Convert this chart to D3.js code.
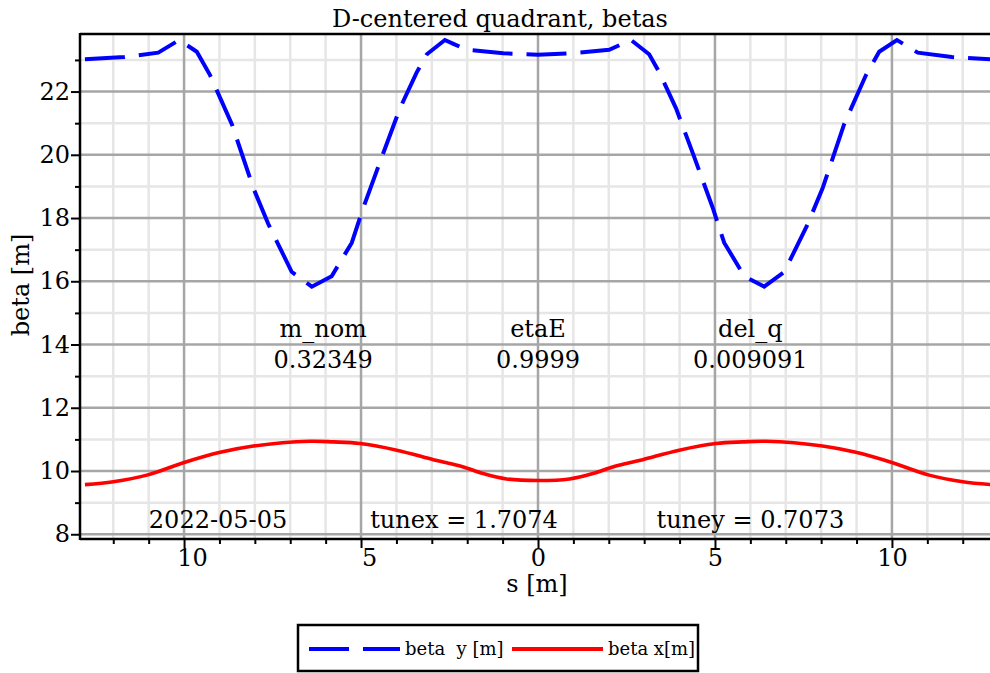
<!DOCTYPE html>
<html><head><meta charset="utf-8">
<script src="https://cdn.jsdelivr.net/npm/d3@7"></script>
<style>
html,body{margin:0;padding:0;background:#fff;}
svg{display:block;font-family:"DejaVu Serif",serif;}
</style></head>
<body><svg id="c" width="990" height="673"></svg>
<script>
// ---- data ----
const sBetaY = [-12.80,-11.69,-10.73,-10.14,-9.64,-9.27,-8.65,-8.04,-7.62,-6.96,-6.39,-5.83,-5.26,-4.95,-4.42,-3.90,-3.43,-3.14,-2.63,-2.39,-2.01,-0.98,0,
                0.98,2.01,2.39,2.63,3.14,3.43,3.90,4.42,4.95,5.26,5.83,6.39,6.96,7.62,8.04,8.65,9.27,9.64,10.14,10.73,11.69,12.80];
const betaY = [23.02,23.09,23.23,23.63,23.26,22.53,20.97,18.94,17.81,16.30,15.83,16.16,17.22,18.28,19.91,21.47,22.60,23.18,23.63,23.51,23.32,23.21,23.16,
               23.21,23.32,23.51,23.63,23.18,22.60,21.47,19.91,18.28,17.22,16.16,15.83,16.30,17.81,18.94,20.97,22.53,23.26,23.63,23.23,23.09,23.02];
const sBetaX = [-12.80,-12.00,-11.05,-10.02,-8.98,-8.04,-6.44,-5.78,-5.03,-3.99,-2.96,-2.58,-2.11,-1.55,-0.89,0,
                0.89,1.55,2.11,2.58,2.96,3.99,5.03,5.78,6.44,8.04,8.98,10.02,11.05,12.00,12.80];
const betaX = [9.57,9.66,9.87,10.26,10.59,10.79,10.94,10.92,10.87,10.66,10.36,10.26,10.13,9.92,9.75,9.70,
               9.75,9.92,10.13,10.26,10.36,10.66,10.87,10.92,10.94,10.79,10.59,10.26,9.87,9.66,9.57];
const xMajorTicks = [-10,-5,0,5,10];
const xMinorTicks = [-12,-11,-9,-8,-7,-6,-4,-3,-2,-1,1,2,3,4,6,7,8,9,11,12];
const yMajorTicks = [8,10,12,14,16,18,20,22];
const yMinorTicks = [9,11,13,15,17,19,21,23];
const paramNames = ["m_nom","etaE","del_q"];
const paramValues = ["0.32349","0.9999","0.009091"];
const paramS = [-6.07,0,6.0];
const footTexts = ["2022-05-05","tunex = 1.7074","tuney = 0.7073"];
const footS = [-9.04,-2.09,6.0];
const titleText = "D-centered quadrant, betas";
const legendLabels = ["beta  y [m]","beta x[m]"];

// ---- layout ----
const svg = d3.select("#c");
const L=80, R=996, T=34, B=539;
const x = d3.scaleLinear().domain([-12.94,12.94]).range([L,R]);
const y = d3.scaleLinear().domain([7.85,23.82]).range([B,T]);

const g = svg.append("g");
g.selectAll(".vminor").data(xMinorTicks).join("line")
  .attr("x1",d=>x(d)).attr("x2",d=>x(d)).attr("y1",T).attr("y2",B)
  .attr("stroke","#e6e6e6").attr("stroke-width",2.5);
g.selectAll(".hminor").data(yMinorTicks).join("line")
  .attr("x1",L).attr("x2",R).attr("y1",d=>y(d)).attr("y2",d=>y(d))
  .attr("stroke","#e6e6e6").attr("stroke-width",2.5);
g.selectAll(".vmajor").data(xMajorTicks).join("line")
  .attr("x1",d=>x(d)).attr("x2",d=>x(d)).attr("y1",T).attr("y2",B)
  .attr("stroke","#a6a6a6").attr("stroke-width",2.5);
g.selectAll(".hmajor").data(yMajorTicks).join("line")
  .attr("x1",L).attr("x2",R).attr("y1",d=>y(d)).attr("y2",d=>y(d))
  .attr("stroke","#a6a6a6").attr("stroke-width",2.5);

svg.append("clipPath").attr("id","pc").append("rect")
  .attr("x",L).attr("y",T).attr("width",R-L).attr("height",B-T);
const lineY = d3.line().x((d,i)=>x(sBetaY[i])).y(d=>y(d)).curve(d3.curveLinear);
const lineX = d3.line().x((d,i)=>x(sBetaX[i])).y(d=>y(d)).curve(d3.curveCatmullRom.alpha(0.5));
svg.append("path").attr("d",lineX(betaX)).attr("fill","none")
  .attr("stroke","#ff0000").attr("stroke-width",3.6).attr("clip-path","url(#pc)");
svg.append("path").attr("d",lineY(betaY)).attr("fill","none")
  .attr("stroke","#0000ff").attr("stroke-width",4).attr("stroke-dasharray","40,14")
  .attr("clip-path","url(#pc)");

const fs = 24;
const yAx = svg.append("g").attr("transform",`translate(${L},0)`)
  .call(d3.axisLeft(y).tickValues(yMajorTicks).tickSize(9).tickPadding(1).tickFormat(d3.format("d")));
const yAxMin = svg.append("g").attr("transform",`translate(${L},0)`)
  .call(d3.axisLeft(y).tickValues(yMinorTicks).tickSize(5).tickFormat(""));
const xAx = svg.append("g").attr("transform",`translate(0,${B})`)
  .call(d3.axisBottom(x).tickValues(xMajorTicks).tickSize(9).tickPadding(1).tickFormat(d=>Math.abs(d)));
const xAxMin = svg.append("g").attr("transform",`translate(0,${B})`)
  .call(d3.axisBottom(x).tickValues(xMinorTicks).tickSize(5).tickFormat(""));
[yAx,yAxMin,xAx,xAxMin].forEach(a=>{
  a.select(".domain").remove();
  a.selectAll(".tick line").attr("stroke","#000").attr("stroke-width",2);
  a.selectAll("text").attr("font-family","DejaVu Serif").attr("font-size",fs).attr("fill","#000");
});
xAx.selectAll(".tick text").filter(d=>d<0).attr("dx",8);
svg.append("line").attr("x1",L).attr("x2",R).attr("y1",B).attr("y2",B).attr("stroke","#000").attr("stroke-width",2.5);
svg.append("line").attr("x1",L).attr("x2",R).attr("y1",T).attr("y2",T).attr("stroke","#000").attr("stroke-width",2.5);
svg.append("line").attr("x1",L).attr("x2",L).attr("y1",T-1).attr("y2",B+1).attr("stroke","#000").attr("stroke-width",2.5);

svg.append("text").attr("x",500).attr("y",27).attr("text-anchor","middle")
  .attr("font-size",24).text(titleText);
svg.append("text").attr("x",537).attr("y",592).attr("text-anchor","middle")
  .attr("font-size",fs).text("s [m]");
svg.append("text").attr("transform","translate(29,285) rotate(-90)").attr("text-anchor","middle")
  .attr("font-size",fs).text("beta [m]");

paramNames.forEach((n,i)=>{
  svg.append("text").attr("x",x(paramS[i])).attr("y",337).attr("text-anchor","middle")
    .attr("font-size",fs).text(n);
  svg.append("text").attr("x",x(paramS[i])).attr("y",368).attr("text-anchor","middle")
    .attr("font-size",fs).text(paramValues[i]);
});
footTexts.forEach((t,i)=>{
  svg.append("text").attr("x",x(footS[i])).attr("y",528).attr("text-anchor","middle")
    .attr("font-size",fs).text(t);
});

const lg = svg.append("g");
lg.append("rect").attr("x",298).attr("y",625).attr("width",400).attr("height",46)
  .attr("fill","#fff").attr("stroke","#000").attr("stroke-width",2.5);
lg.append("line").attr("x1",309).attr("x2",400).attr("y1",649).attr("y2",649)
  .attr("stroke","#0000ff").attr("stroke-width",4).attr("stroke-dasharray","40,14");
lg.append("text").attr("x",405).attr("y",655).attr("font-size",18).attr("xml:space","preserve")
  .style("white-space","pre").text(legendLabels[0]);
lg.append("line").attr("x1",512).attr("x2",603).attr("y1",649).attr("y2",649)
  .attr("stroke","#ff0000").attr("stroke-width",4);
lg.append("text").attr("x",608).attr("y",655).attr("font-size",18).text(legendLabels[1]);
</script>
</body></html>
